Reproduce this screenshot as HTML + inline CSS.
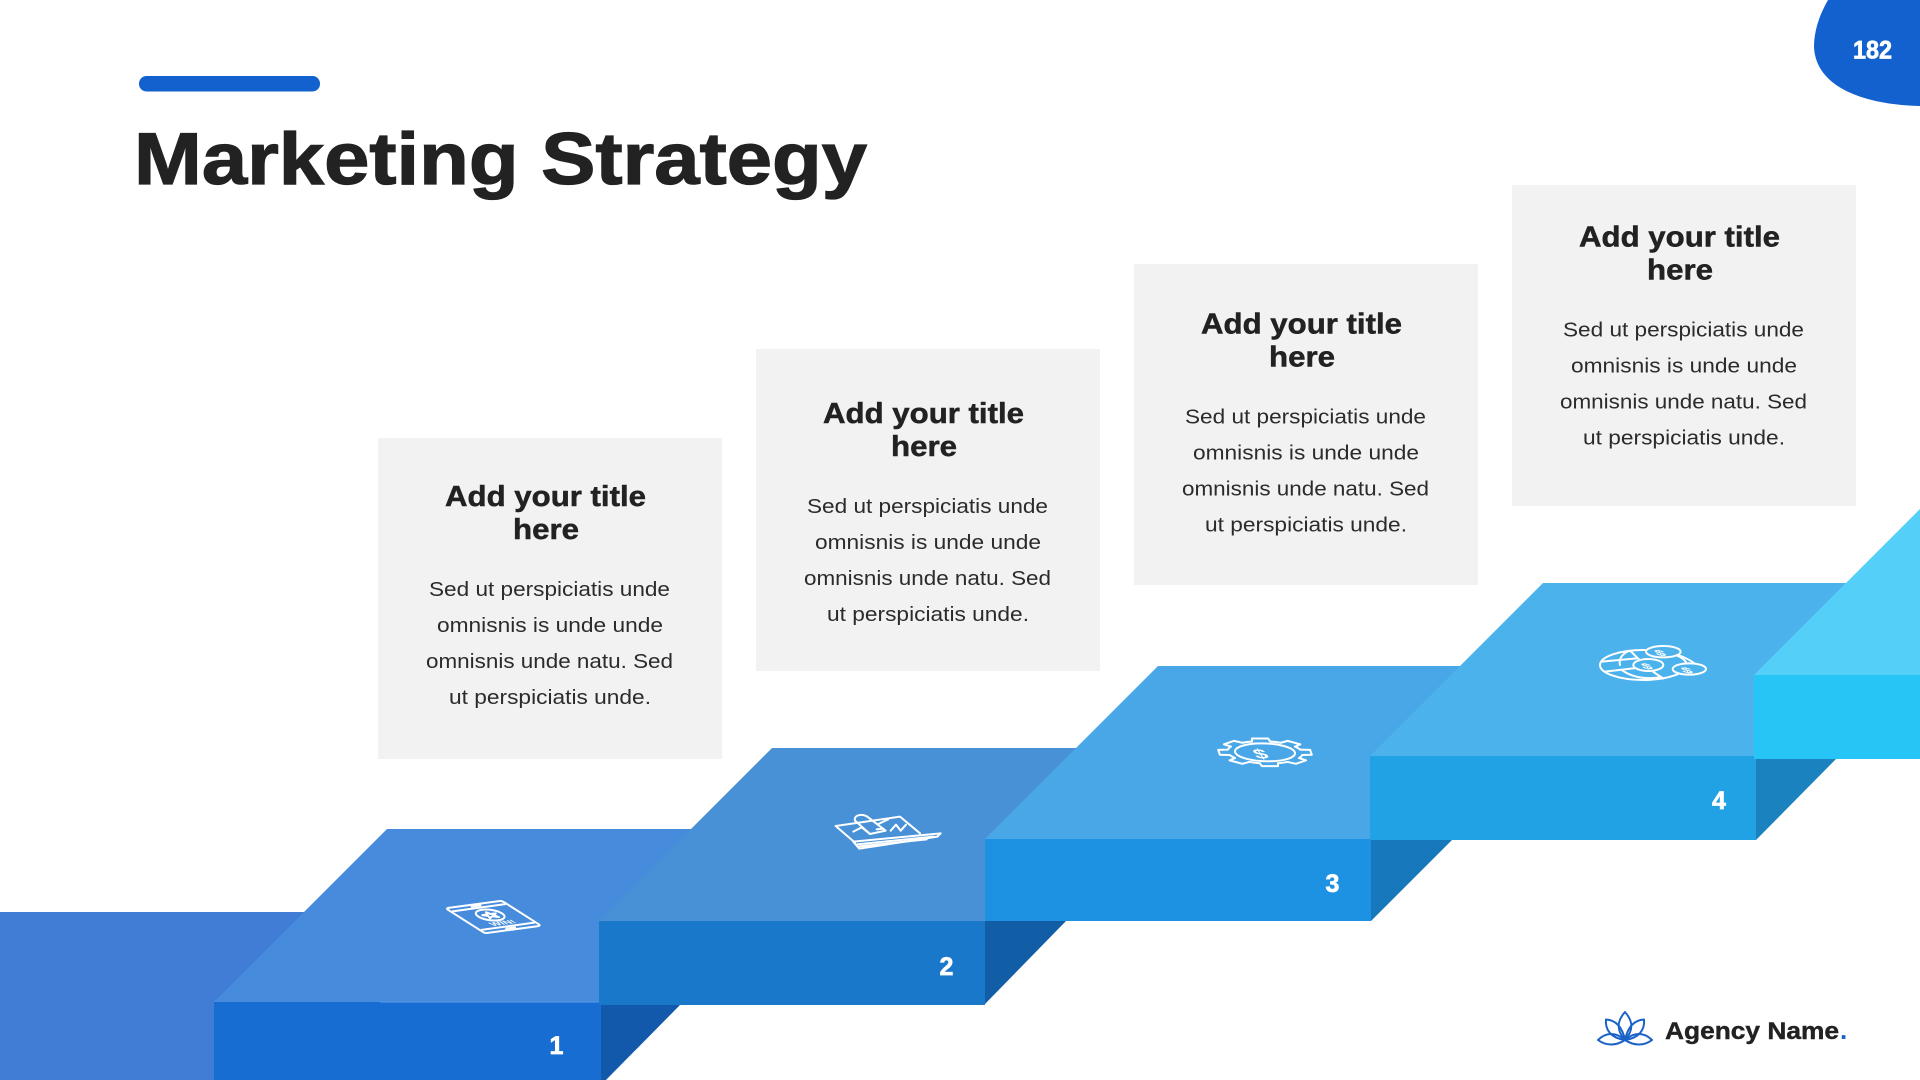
<!DOCTYPE html>
<html lang="en">
<head>
<meta charset="utf-8">
<title>Marketing Strategy</title>
<style>
html,body{margin:0;padding:0;background:#fff;width:1920px;height:1080px;overflow:hidden}
svg{display:block;position:absolute;left:0;top:0}
text{font-family:"Liberation Sans",sans-serif}
.t{font-size:28.5px;font-weight:700;fill:#222;stroke:#222;stroke-width:.5}
.b{font-size:20.5px;fill:#2b2b2b}
.n{font-size:25px;font-weight:700;fill:#fff;stroke:#fff;stroke-width:.7;text-anchor:middle}
.ic *{fill:none;stroke:#fff;stroke-width:2;vector-effect:non-scaling-stroke;stroke-linejoin:round;stroke-linecap:round}
.ic text{fill:#fff;stroke:none;font-weight:700}
</style>
</head>
<body>
<svg width="1920" height="1080" viewBox="0 0 1920 1080" xmlns="http://www.w3.org/2000/svg">
  <!-- header -->
  <rect x="139" y="76" width="181" height="15.5" rx="7.5" fill="#1261cf"/>
  <text x="134" y="184" font-size="73" font-weight="700" fill="#222" stroke="#222" stroke-width="1.2" textLength="733" lengthAdjust="spacingAndGlyphs">Marketing Strategy</text>
  <path d="M1828,0 C1820,14 1814,30 1814,47 C1816,90 1870,105 1920,106 L1920,0 Z" fill="#1261cf"/>
  <text x="1853" y="58.5" font-size="25" font-weight="700" fill="#fff" stroke="#fff" stroke-width=".7" textLength="39" lengthAdjust="spacingAndGlyphs">182</text>

  <!-- cards -->
  <rect x="378" y="438" width="344" height="321" fill="#f2f2f2"/>
  <rect x="756" y="349" width="344" height="322" fill="#f2f2f2"/>
  <rect x="1134" y="264" width="344" height="321" fill="#f2f2f2"/>
  <rect x="1512" y="185" width="344" height="321" fill="#f2f2f2"/>

  <g id="c1">
    <text class="t" x="445" y="506" textLength="201" lengthAdjust="spacingAndGlyphs">Add your title</text>
    <text class="t" x="513" y="539" textLength="66" lengthAdjust="spacingAndGlyphs">here</text>
    <text class="b" x="429" y="596" textLength="241" lengthAdjust="spacingAndGlyphs">Sed ut perspiciatis unde</text>
    <text class="b" x="437" y="632" textLength="226" lengthAdjust="spacingAndGlyphs">omnisnis is unde unde</text>
    <text class="b" x="426" y="668" textLength="247" lengthAdjust="spacingAndGlyphs">omnisnis unde natu. Sed</text>
    <text class="b" x="449" y="704" textLength="202" lengthAdjust="spacingAndGlyphs">ut perspiciatis unde.</text>
  </g>
  <g transform="translate(378,-83)">
    <text class="t" x="445" y="506" textLength="201" lengthAdjust="spacingAndGlyphs">Add your title</text>
    <text class="t" x="513" y="539" textLength="66" lengthAdjust="spacingAndGlyphs">here</text>
    <text class="b" x="429" y="596" textLength="241" lengthAdjust="spacingAndGlyphs">Sed ut perspiciatis unde</text>
    <text class="b" x="437" y="632" textLength="226" lengthAdjust="spacingAndGlyphs">omnisnis is unde unde</text>
    <text class="b" x="426" y="668" textLength="247" lengthAdjust="spacingAndGlyphs">omnisnis unde natu. Sed</text>
    <text class="b" x="449" y="704" textLength="202" lengthAdjust="spacingAndGlyphs">ut perspiciatis unde.</text>
  </g>
  <g transform="translate(756,-172.7)">
    <text class="t" x="445" y="506" textLength="201" lengthAdjust="spacingAndGlyphs">Add your title</text>
    <text class="t" x="513" y="539" textLength="66" lengthAdjust="spacingAndGlyphs">here</text>
    <text class="b" x="429" y="596" textLength="241" lengthAdjust="spacingAndGlyphs">Sed ut perspiciatis unde</text>
    <text class="b" x="437" y="632" textLength="226" lengthAdjust="spacingAndGlyphs">omnisnis is unde unde</text>
    <text class="b" x="426" y="668" textLength="247" lengthAdjust="spacingAndGlyphs">omnisnis unde natu. Sed</text>
    <text class="b" x="449" y="704" textLength="202" lengthAdjust="spacingAndGlyphs">ut perspiciatis unde.</text>
  </g>
  <g transform="translate(1134,-259.6)">
    <text class="t" x="445" y="506" textLength="201" lengthAdjust="spacingAndGlyphs">Add your title</text>
    <text class="t" x="513" y="539" textLength="66" lengthAdjust="spacingAndGlyphs">here</text>
    <text class="b" x="429" y="596" textLength="241" lengthAdjust="spacingAndGlyphs">Sed ut perspiciatis unde</text>
    <text class="b" x="437" y="632" textLength="226" lengthAdjust="spacingAndGlyphs">omnisnis is unde unde</text>
    <text class="b" x="426" y="668" textLength="247" lengthAdjust="spacingAndGlyphs">omnisnis unde natu. Sed</text>
    <text class="b" x="449" y="704" textLength="202" lengthAdjust="spacingAndGlyphs">ut perspiciatis unde.</text>
  </g>

  <!-- stairs -->
  <polygon points="0,912 320,912 214,1002 214,1080 0,1080" fill="#417dd4"/>

  <polygon points="214,1002 387,829 772,829 600,1002" fill="#468bdc"/>
  <polygon points="601,1005 680,1005 601,1085" fill="#1258ab"/>
  <rect x="214" y="1002" width="387" height="78" fill="#176dd1"/>
  <line x1="380" y1="1002" x2="600" y2="1002" stroke="#5b9be6" stroke-width="1"/>

  <polygon points="599,921 772,748 1158,748 985,921" fill="#4891d6"/>
  <polygon points="985,921 1066,921 985,1004" fill="#125ea6"/>
  <rect x="599" y="921" width="386" height="84" fill="#1a78cb"/>

  <polygon points="985,839 1158,666 1543,666 1371,839" fill="#49a7e7"/>
  <polygon points="1371,840 1452,840 1371,921" fill="#1778bc"/>
  <rect x="985" y="839" width="386" height="82" fill="#1d92e3"/>

  <polygon points="1370,756 1543,583 1928,583 1756,756" fill="#4cb2ec"/>
  <polygon points="1756,759 1836,759 1756,840" fill="#1a82be"/>
  <rect x="1370" y="756" width="386" height="84" fill="#20a2e5"/>

  <polygon points="1754,675 1920,509 1920,675" fill="#54d0f8"/>
  <rect x="1754" y="675" width="166" height="84" fill="#27c4f6"/>

  <!-- numbers -->
  <text class="n" x="556.5" y="1054">1</text>
  <text class="n" x="946.5" y="975">2</text>
  <text class="n" x="1332.5" y="892">3</text>
  <text class="n" x="1719" y="809">4</text>

  <!-- icon 1: tablet -->
  <g class="ic" transform="matrix(.56,-.076,.393,.25,445.7,908.3)">
    <rect x="0" y="0" width="100" height="100" rx="5"/>
    <line x1="3" y1="13" x2="97" y2="13"/>
    <line x1="3" y1="87" x2="97" y2="87"/>
    <line x1="42" y1="6" x2="58" y2="6"/>
    <line x1="42" y1="94" x2="58" y2="94"/>
    <circle cx="50" cy="42" r="21"/>
    <polygon points="50,31 53,39 62,39 55,44 58,53 50,47 42,53 45,44 38,39 47,39"/>
    <text x="50" y="80" font-size="19" text-anchor="middle">WIN!</text>
  </g>

  <!-- icon 2: laptop + rocket -->
  <g class="ic" transform="translate(820,800) scale(.3333)">
    <path d="M47,78 L240,50 L300,100"/>
    <path d="M47,78 L105,128"/>
    <path d="M100,125 L362,100 L352,110 L118,146 Z"/>
    <path d="M112,133 L340,110"/>
    <path d="M118,139 L320,118"/>
    <path d="M105,62 C100,45 125,40 142,50 L197,92 L150,102 Z"/>
    <path d="M100,95 L125,82 L150,102"/>
    <path d="M175,72 L205,58"/>
    <path d="M212,92 L228,74 L242,92 L258,74"/>
    <path d="M170,88 L190,86"/>
  </g>

  <!-- icon 3: gear with dollar -->
  <g class="ic" transform="translate(1200,720) scale(.3333)">
    <g transform="translate(195,97) matrix(1.4,0,.15,.42,0,0)">
      <path transform="rotate(0)"   d="M77.6-19.4L98.5-17.4V17.4L77.6 19.4A80 80 0 0 1 68.6 41.2"/>
      <path transform="rotate(45)"  d="M77.6-19.4L98.5-17.4V17.4L77.6 19.4A80 80 0 0 1 68.6 41.2"/>
      <path transform="rotate(90)"  d="M77.6-19.4L98.5-17.4V17.4L77.6 19.4A80 80 0 0 1 68.6 41.2"/>
      <path transform="rotate(135)" d="M77.6-19.4L98.5-17.4V17.4L77.6 19.4A80 80 0 0 1 68.6 41.2"/>
      <path transform="rotate(180)" d="M77.6-19.4L98.5-17.4V17.4L77.6 19.4A80 80 0 0 1 68.6 41.2"/>
      <path transform="rotate(225)" d="M77.6-19.4L98.5-17.4V17.4L77.6 19.4A80 80 0 0 1 68.6 41.2"/>
      <path transform="rotate(270)" d="M77.6-19.4L98.5-17.4V17.4L77.6 19.4A80 80 0 0 1 68.6 41.2"/>
      <path transform="rotate(315)" d="M77.6-19.4L98.5-17.4V17.4L77.6 19.4A80 80 0 0 1 68.6 41.2"/>
      <circle cx="0" cy="0" r="64"/>
    </g>
    <text transform="translate(190,116) matrix(1.7,0,.6,.95,0,0)" font-size="42" text-anchor="middle">$</text>
  </g>

  <!-- icon 4: globe with coins -->
  <g class="ic" transform="translate(1580,630) scale(.3333)">
    <ellipse cx="190" cy="105" rx="130" ry="45"/>
    <path d="M120,105 C115,85 130,68 150,62 C175,85 205,120 250,145"/>
    <path d="M125,120 C160,145 200,148 240,142"/>
    <path d="M65,95 L170,85"/>
    <path d="M75,125 L185,112"/>
    <path d="M295,75 C320,85 340,95 345,103"/>
    <ellipse cx="250" cy="65" rx="52" ry="17" style="fill:#4cb2ec"/>
    <ellipse cx="205" cy="105" rx="45" ry="18" style="fill:#4cb2ec"/>
    <ellipse cx="328" cy="117" rx="50" ry="17" style="fill:#4cb2ec"/>
    <text transform="translate(245,77) matrix(1.7,.2,.4,.7,0,0)" font-size="34" text-anchor="middle">$</text>
    <text transform="translate(205,117) matrix(1.7,.2,.4,.7,0,0)" font-size="34" text-anchor="middle">$</text>
    <text transform="translate(325,129) matrix(1.7,.2,.4,.7,0,0)" font-size="34" text-anchor="middle">$</text>
  </g>

  <!-- logo -->
  <g fill="none" stroke="#1b62c8" stroke-width="2" stroke-linejoin="round">
    <path d="M1625,1012 C1617,1021 1616,1030 1625,1040 C1634,1030 1633,1021 1625,1012 Z"/>
    <path d="M1606,1019.5 C1615,1020 1622,1026 1625,1040 C1611,1038 1605,1030 1606,1019.5 Z"/>
    <path d="M1644,1019.5 C1635,1020 1628,1026 1625,1040 C1639,1038 1645,1030 1644,1019.5 Z"/>
    <path d="M1598,1040 C1606,1032 1616,1032 1625,1040 C1616,1046 1606,1046 1598,1040 Z"/>
    <path d="M1652,1040 C1644,1032 1634,1032 1625,1040 C1634,1046 1644,1046 1652,1040 Z"/>
  </g>
  <text x="1665" y="1039" font-size="24" font-weight="700" fill="#222" stroke="#222" stroke-width=".4" textLength="174" lengthAdjust="spacingAndGlyphs">Agency Name</text>
  <text x="1840" y="1039" font-size="26" font-weight="700" fill="#1b62c8">.</text>
</svg>
</body>
</html>
